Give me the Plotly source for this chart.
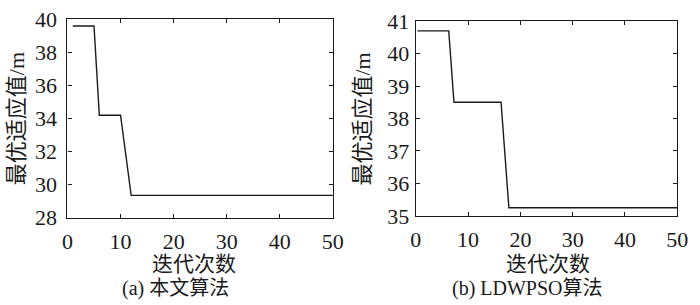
import plotly.graph_objects as go

# (a) 本文算法
iter_a = [1, 5, 6, 10, 12, 50]
fit_a = [39.6, 39.6, 34.2, 34.2, 29.35, 29.35]
# (b) LDWPSO算法
iter_b = [0.3, 6.3, 7.3, 16.3, 17.8, 50]
fit_b = [40.7, 40.7, 38.5, 38.5, 35.25, 35.25]

yticks_a = [28, 30, 32, 34, 36, 38, 40]
yticks_b = [35, 36, 37, 38, 39, 40, 41]
xticks = [0, 10, 20, 30, 40, 50]

xlabel = "迭代次数"
ylabel = "最优适应值/m"
captions = ["(a) 本文算法", "(b) LDWPSO算法"]

FONT = "Liberation Serif, 'Noto Sans CJK SC', serif"
W, H = 700, 305
INK = "#1a1a1a"

fig = go.Figure()
fig.add_trace(go.Scatter(x=iter_a, y=fit_a, mode="lines", line=dict(color=INK, width=1.4),
                         xaxis="x", yaxis="y", showlegend=False))
fig.add_trace(go.Scatter(x=iter_b, y=fit_b, mode="lines", line=dict(color=INK, width=1.4),
                         xaxis="x2", yaxis="y2", showlegend=False))

def px_x(p):
    return p / W

def px_y(p):
    return 1 - p / H

axis_common = dict(showline=True, linecolor=INK, linewidth=1.2, mirror="ticks",
                   ticks="inside", ticklen=4, tickcolor=INK, showgrid=False, zeroline=False,
                   ticklabeloverflow="allow",
                   tickfont=dict(family=FONT, size=22, color=INK))

fig.update_layout(
    width=W, height=H, margin=dict(l=0, r=0, t=0, b=0),
    paper_bgcolor="white", plot_bgcolor="white",
    font=dict(family=FONT, color=INK),
    xaxis=dict(domain=[px_x(63), px_x(335)], range=[0, 50], tickvals=xticks, anchor="y",
               ticklabelstandoff=4, **axis_common),
    yaxis=dict(domain=[px_y(224), px_y(8)], range=[28, 40], tickvals=yticks_a, anchor="x",
               ticklabelstandoff=5, **axis_common),
    xaxis2=dict(domain=[px_x(420), px_x(688)], range=[0, 50], tickvals=xticks, anchor="y2",
                ticklabelstandoff=4, **axis_common),
    yaxis2=dict(domain=[px_y(222), px_y(10)], range=[35, 41], tickvals=yticks_b, anchor="x2",
                ticklabelstandoff=1, **axis_common),
)

# x-axis titles
for cx in [193, 555]:
    fig.add_annotation(text=xlabel, x=px_x(cx), y=px_y(275), xref="paper", yref="paper",
                       showarrow=False, xanchor="center", yanchor="middle",
                       font=dict(family=FONT, size=21, color=INK))
# y-axis titles
for cx, cy in [(11, 116), (365, 117)]:
    fig.add_annotation(text=ylabel, x=px_x(cx), y=px_y(cy), xref="paper", yref="paper",
                       showarrow=False, xanchor="center", yanchor="middle", textangle=-90,
                       font=dict(family=FONT, size=22, color=INK))
# captions
for cap, cx in zip(captions, [174, 534]):
    fig.add_annotation(text=cap, x=px_x(cx), y=px_y(301), xref="paper", yref="paper",
                       showarrow=False, xanchor="center", yanchor="middle",
                       font=dict(family=FONT, size=20, color=INK))

fig.write_html("out.html", config={"displayModeBar": False},
               post_script="document.body.style.margin='0';document.body.style.overflow='hidden';")
